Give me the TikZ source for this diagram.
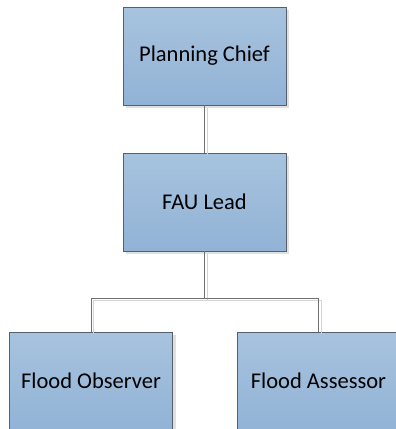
\documentclass[tikz,border=0pt]{standalone}
\usepackage{fontspec}
\setmainfont{Carlito}
\usetikzlibrary{shadows}
\definecolor{boxtop}{HTML}{A7C3DE}
\definecolor{boxbot}{HTML}{92B3D6}
\definecolor{boxline}{HTML}{56606C}
\definecolor{linkline}{HTML}{707070}
\definecolor{linkshade}{HTML}{D4D4D4}
\tikzset{
  rolebox/.style={rectangle, draw=boxline, line width=0.9pt, top color=boxtop, bottom color=boxbot,
    minimum width=163pt, minimum height=98pt, inner sep=0pt,
    font=\fontsize{22.5}{27}\selectfont, text=black,
    drop shadow={shadow xshift=3pt, shadow yshift=-3pt, fill=black!12, opacity=1}},
  link/.style={draw=linkline, line width=1pt,
    preaction={draw=linkshade, line width=1pt, transform canvas={xshift=2.5pt, yshift=-2.5pt}}}
}
\begin{document}
\begin{tikzpicture}[x=1pt,y=-1pt]
\useasboundingbox (0,0) rectangle (396,429);
\clip (0,0) rectangle (396,429);
\fill[white] (0,0) rectangle (396,429);
\node[rolebox] (chief) at (204.5,56) {Planning Chief};
\node[rolebox] (fau) at (204.5,202) {FAU Lead};
\node[rolebox] (obs) at (91,381) {Flood Observer};
\node[rolebox] (ass) at (318.5,381) {Flood Assessor};
\coordinate (bus) at (204.5,298);
\path[link] (chief.south) -- (fau.north);
\path[link] (fau.south) -- (bus) -| (obs.north);
\path[link] (bus) -| (ass.north);
\end{tikzpicture}
\end{document}
